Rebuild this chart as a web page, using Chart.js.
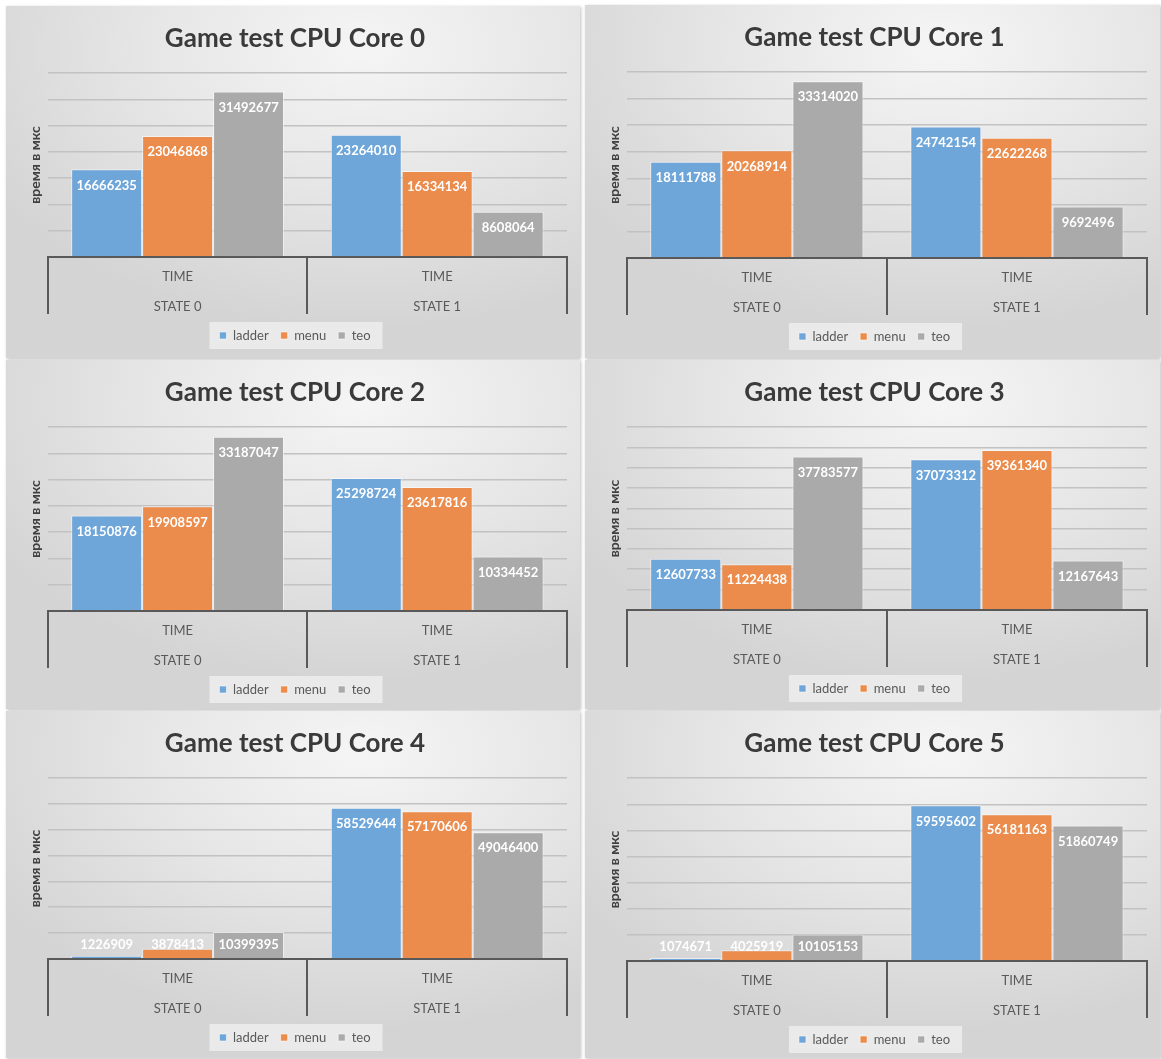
<!DOCTYPE html>
<html>
<head>
<meta charset="utf-8">
<script src="https://cdn.jsdelivr.net/npm/chart.js@4.4.1/dist/chart.umd.min.js"></script>
<style>
  body { margin: 0; background: #ffffff; width: 1161px; height: 1059px; position: relative; overflow: hidden; }
  .panel {
    position: absolute;
    background: radial-gradient(ellipse 75% 80% at 62% 12%, #f5f5f5 0%, #e6e6e6 50%, #d4d4d4 100%);
    box-shadow: 1px 1px 3px rgba(0,0,0,0.25);
  }
</style>
</head>
<body>

<script>
// data
const coreTitles = ['Game test CPU Core 0', 'Game test CPU Core 1', 'Game test CPU Core 2',
                    'Game test CPU Core 3', 'Game test CPU Core 4', 'Game test CPU Core 5'];
const categories = ['TIME', 'TIME'];
const states = ['STATE 0', 'STATE 1'];
const seriesNames = ['ladder', 'menu', 'teo'];

const ladder = [[16666235, 23264010], [18111788, 24742154], [18150876, 25298724],
                [12607733, 37073312], [1226909, 58529644], [1074671, 59595602]];
const menu   = [[23046868, 16334134], [20268914, 22622268], [19908597, 23617816],
                [11224438, 39361340], [3878413, 57170606], [4025919, 56181163]];
const teo    = [[31492677, 8608064], [33314020, 9692496], [33187047, 10334452],
                [37783577, 12167643], [10399395, 49046400], [10105153, 51860749]];

const yMax  = [35000000, 35000000, 35000000, 45000000, 70000000, 70000000];
const yStep = [5000000, 5000000, 5000000, 5000000, 10000000, 10000000];

const yTitle = 'время в мкс';
const colors = ['#6fa6d9', '#eb8c4c', '#aaaaaa'];

// panel boxes on the page
const panels = [
  {left: 6,   top: 6,   width: 574, height: 352, padBottom: 6},
  {left: 585, top: 5,   width: 575, height: 353, padBottom: 5},
  {left: 6,   top: 360, width: 574, height: 349, padBottom: 3},
  {left: 585, top: 360, width: 575, height: 349, padBottom: 4},
  {left: 6,   top: 711, width: 574, height: 347, padBottom: 4},
  {left: 585, top: 711, width: 575, height: 347, padBottom: 2}
];

// white numbers inside the top of each bar
const barLabels = {
  id: 'barLabels',
  afterDatasetsDraw(chart) {
    const ctx = chart.ctx;
    ctx.save();
    ctx.font = 'bold 13px Lato';
    ctx.fillStyle = '#ffffff';
    ctx.textAlign = 'center';
    ctx.textBaseline = 'middle';
    chart.data.datasets.forEach(function(ds, i) {
      chart.getDatasetMeta(i).data.forEach(function(bar, j) {
        const y = Math.min(bar.y + 16, bar.base - 13);
        ctx.fillText(String(ds.data[j]), bar.x, y);
      });
    });
    ctx.restore();
  }
};

// light box behind the legend
const legendBox = {
  id: 'legendBox',
  beforeDraw(chart) {
    const boxes = chart.legend.legendHitBoxes;
    if (!boxes || !boxes.length) return;
    let l = Infinity, r = -Infinity, t = Infinity, b = -Infinity;
    boxes.forEach(function(h) {
      l = Math.min(l, h.left); r = Math.max(r, h.left + h.width);
      t = Math.min(t, h.top); b = Math.max(b, h.top + h.height);
    });
    const ctx = chart.ctx;
    ctx.save();
    ctx.fillStyle = 'rgba(236,236,236,0.9)';
    ctx.fillRect(l - 10, t - 7, r - l + 22, b - t + 14);
    ctx.restore();
  }
};

// vertical separators of the two-level category axis
const categoryLines = {
  id: 'categoryLines',
  afterDraw(chart) {
    const x = chart.scales.x;
    const x2 = chart.scales.x2;
    const mid = (x.getPixelForValue(0) + x.getPixelForValue(1)) / 2;
    const ctx = chart.ctx;
    ctx.save();
    ctx.strokeStyle = '#595959';
    ctx.lineWidth = 2;
    [x.left, mid, x.right].forEach(function(px) {
      ctx.beginPath();
      ctx.moveTo(Math.round(px), x.top);
      ctx.lineTo(Math.round(px), x2.bottom - 3);
      ctx.stroke();
    });
    ctx.restore();
  }
};

function makeChart(k) {
  const p = panels[k];
  const div = document.createElement('div');
  div.className = 'panel';
  div.style.left = p.left + 'px';
  div.style.top = p.top + 'px';
  div.style.width = p.width + 'px';
  div.style.height = p.height + 'px';
  const canvas = document.createElement('canvas');
  div.appendChild(canvas);
  document.body.appendChild(div);

  const series = [ladder[k], menu[k], teo[k]];

  new Chart(canvas, {
    type: 'bar',
    data: {
      labels: categories,
      datasets: seriesNames.map(function(name, i) {
        return {
          label: name,
          data: series[i],
          backgroundColor: colors[i],
          borderColor: 'rgba(255,255,255,0.55)',
          borderWidth: 1,
          categoryPercentage: 0.82,
          barPercentage: 1.0
        };
      })
    },
    options: {
      responsive: true,
      maintainAspectRatio: false,
      animation: false,
      devicePixelRatio: 1,
      layout: { padding: { left: 17, right: 13, top: 0, bottom: p.padBottom } },
      plugins: {
        title: {
          display: true,
          text: coreTitles[k],
          color: '#3a3a3a',
          font: { family: 'Lato', size: 26, weight: 'bold' },
          padding: { top: 17, bottom: 19 }
        },
        legend: {
          position: 'bottom',
          labels: {
            boxWidth: 7,
            boxHeight: 7,
            padding: 12,
            color: '#595959',
            font: { family: 'Lato', size: 13 }
          }
        },
        tooltip: { enabled: false }
      },
      scales: {
        x: {
          weight: 0,
          grid: { display: false, drawTicks: false },
          border: { display: true, color: '#595959', width: 2 },
          ticks: {
            padding: 12,
            color: '#595959',
            maxRotation: 0,
            font: { family: 'Lato', size: 13 }
          }
        },
        x2: {
          type: 'category',
          position: 'bottom',
          weight: 1,
          labels: states,
          offset: true,
          grid: { display: false, drawTicks: false },
          border: { display: false },
          ticks: {
            padding: 2.5,
            color: '#595959',
            maxRotation: 0,
            font: { family: 'Lato', size: 13 }
          }
        },
        y: {
          min: 0,
          max: yMax[k],
          ticks: { display: false, stepSize: yStep[k] },
          grid: { color: '#c2c2c2', lineWidth: 1.5, drawTicks: false },
          border: { display: false },
          title: {
            display: true,
            text: yTitle,
            color: '#404040',
            font: { family: 'Lato', size: 14, weight: 'bold' },
            padding: { top: 4, bottom: 4 }
          }
        }
      }
    },
    plugins: [barLabels, legendBox, categoryLines]
  });
}

for (let k = 0; k < panels.length; k++) {
  makeChart(k);
}
</script>
</body>
</html>
